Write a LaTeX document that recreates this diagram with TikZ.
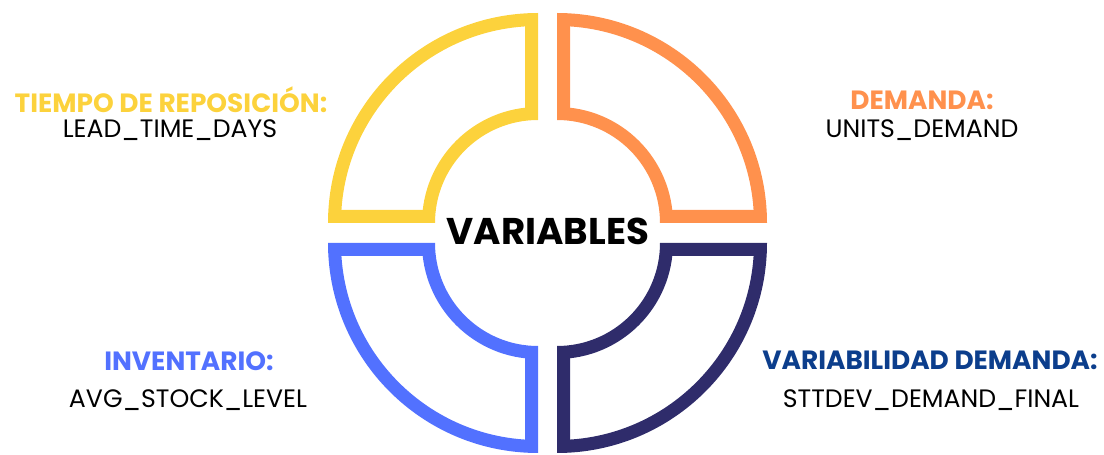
\documentclass[tikz,border=0pt]{standalone}
\usepackage{fontspec}
\setmainfont{Poppins}
\usetikzlibrary{positioning}

\definecolor{ringyellow}{HTML}{FCD23C}
\definecolor{ringorange}{HTML}{FF914D}
\definecolor{ringblue}{HTML}{5271FF}
\definecolor{ringnavy}{HTML}{2F2C6B}
\definecolor{textnavy}{HTML}{0C3E8C}

\tikzset{heading/.style = {font=\fontsize{13.2}{15}\selectfont\bfseries, inner sep=0}}
\tikzset{varname/.style = {font=\fontsize{12.6}{14}\selectfont, inner sep=0}}

% one quarter of the ring, stroke kept inside its outline
% #1 corner (x, y), #2 start angle, #3 colour
\newcommand{\ringpiece}[3]{
  \begin{scope}
    \clip ([shift={(#2:103)}]#1) -- ([shift={(#2:210)}]#1)
      arc [start angle=#2, delta angle=90, radius=210]
      -- ([shift={(#2+90:103)}]#1)
      arc [start angle=#2+90, delta angle=-90, radius=103] -- cycle;
    \draw [#3, line width=13pt, line join=miter]
      ([shift={(#2:103)}]#1) -- ([shift={(#2:210)}]#1)
      arc [start angle=#2, delta angle=90, radius=210]
      -- ([shift={(#2+90:103)}]#1)
      arc [start angle=#2+90, delta angle=-90, radius=103] -- cycle;
  \end{scope}
}

\begin{document}
\begin{tikzpicture}[x=0.5pt, y=0.5pt]
  \useasboundingbox (0, 0) rectangle (1104, 455);

  \ringpiece{538, 232}{90}{ringyellow}
  \ringpiece{557, 232}{0}{ringorange}
  \ringpiece{538, 212}{180}{ringblue}
  \ringpiece{557, 212}{270}{ringnavy}

  \node (centre) [font=\fontsize{18.6}{21}\selectfont\bfseries] at (548, 224) {VARIABLES};

  % labels round the ring
  \node (lead) [heading, ringyellow] at (171, 355) {TIEMPO DE REPOSICIÓN:};
  \node (leadvar) [varname] at (170, 325) {LEAD\_TIME\_DAYS};
  \node (dem) [heading, ringorange] at (922, 355) {DEMANDA:};
  \node (demvar) [varname] at (922, 325) {UNITS\_DEMAND};
  \node (inv) [heading, ringblue] at (189, 94) {INVENTARIO:};
  \node (invvar) [varname] at (188, 55) {AVG\_STOCK\_LEVEL};
  \node (vard) [heading, textnavy] at (930, 95) {VARIABILIDAD DEMANDA:};
  \node (vardvar) [varname] at (931, 55) {STTDEV\_DEMAND\_FINAL};
\end{tikzpicture}
\end{document}
